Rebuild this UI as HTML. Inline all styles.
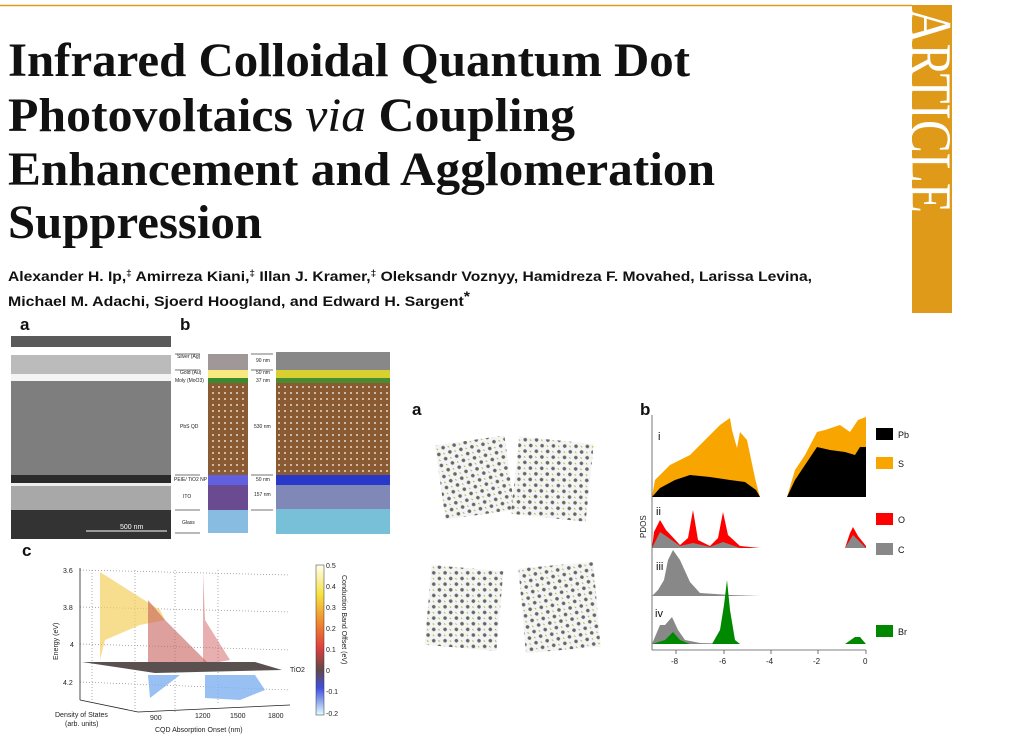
<!DOCTYPE html>
<html><head><meta charset="utf-8"><style>
html,body{margin:0;padding:0;background:#fff;width:1024px;height:740px;overflow:hidden}
svg{display:block}
</style></head><body>
<svg width="1024" height="740" viewBox="0 0 1024 740" xmlns="http://www.w3.org/2000/svg">
<defs>
<pattern id="qd" width="6" height="6" patternUnits="userSpaceOnUse"><rect width="6" height="6" fill="#8a5a32"/><circle cx="3" cy="3" r="1" fill="#e8d8c8"/></pattern>
<pattern id="mol" width="8" height="8" patternUnits="userSpaceOnUse" patternTransform="rotate(40)"><rect width="8" height="8" fill="#f4f4f4"/><circle cx="4" cy="4" r="1.8" fill="#666"/><circle cx="0" cy="0" r="1.2" fill="#d4c030"/><circle cx="8" cy="0" r="1" fill="#50c040"/></pattern>
<clipPath id="barclip"><rect x="912" y="5" width="40" height="308"/></clipPath>
<linearGradient id="cb" x1="0" y1="0" x2="0" y2="1"><stop offset="0" stop-color="#fffff0"/><stop offset="0.2" stop-color="#f6e040"/><stop offset="0.4" stop-color="#f08030"/><stop offset="0.55" stop-color="#e04040"/><stop offset="0.7" stop-color="#604848"/><stop offset="0.82" stop-color="#4050e0"/><stop offset="1" stop-color="#e0ffff"/></linearGradient>
<linearGradient id="sem" x1="0" y1="0" x2="0" y2="1"><stop offset="0" stop-color="#888"/><stop offset="1" stop-color="#6a6a6a"/></linearGradient>
</defs>
<line x1="0" y1="5.5" x2="912" y2="5.5" stroke="#e09a1a" stroke-width="1.5"/>
<rect x="912" y="5" width="40" height="308" fill="#e09a1a"/>
<g clip-path="url(#barclip)">
<text transform="translate(910,8) rotate(90)" font-family="Liberation Serif, serif" font-size="60" fill="#fff" textLength="205" lengthAdjust="spacingAndGlyphs">ARTICLE</text>
</g>
<g font-family="Liberation Serif, serif" font-size="48" font-weight="bold" fill="#111">
<text x="8" y="76" textLength="682" lengthAdjust="spacingAndGlyphs">Infrared Colloidal Quantum Dot</text>
<text x="8" y="131" textLength="567" lengthAdjust="spacingAndGlyphs">Photovoltaics <tspan font-style="italic" font-weight="normal">via</tspan> Coupling</text>
<text x="8" y="185" textLength="707" lengthAdjust="spacingAndGlyphs">Enhancement and Agglomeration</text>
<text x="8" y="238" textLength="254" lengthAdjust="spacingAndGlyphs">Suppression</text>
</g>
<g font-family="Liberation Sans, sans-serif" font-size="14" font-weight="bold" fill="#111">
<text x="8" y="281" textLength="804" lengthAdjust="spacingAndGlyphs">Alexander H. Ip,<tspan dy="-5" font-size="9">‡</tspan><tspan dy="5"> Amirreza Kiani,</tspan><tspan dy="-5" font-size="9">‡</tspan><tspan dy="5"> Illan J. Kramer,</tspan><tspan dy="-5" font-size="9">‡</tspan><tspan dy="5"> Oleksandr Voznyy, Hamidreza F. Movahed, Larissa Levina,</tspan></text>
<text x="8" y="306" textLength="462" lengthAdjust="spacingAndGlyphs">Michael M. Adachi, Sjoerd Hoogland, and Edward H. Sargent<tspan dy="-5">*</tspan></text>
</g>
<g font-family="Liberation Sans, sans-serif" font-weight="bold" font-size="17" fill="#111">
<text x="20" y="330">a</text><text x="180" y="330">b</text><text x="22" y="556">c</text>
<text x="412" y="415">a</text><text x="640" y="415">b</text>
</g>
<rect x="11" y="336" width="160" height="203" fill="url(#sem)"/>
<rect x="11" y="336" width="160" height="11" fill="#5a5a5a"/>
<rect x="11" y="347" width="160" height="8" fill="#fff"/>
<rect x="11" y="355" width="160" height="22" fill="#bbb"/>
<rect x="11" y="374" width="160" height="7" fill="#f4f4f4"/>
<rect x="11" y="381" width="160" height="94" fill="#7e7e7e"/>
<rect x="11" y="475" width="160" height="8" fill="#2a2a2a"/>
<rect x="11" y="483" width="160" height="3" fill="#eee"/>
<rect x="11" y="486" width="160" height="24" fill="#a8a8a8"/>
<rect x="11" y="510" width="160" height="29" fill="#333"/>
<line x1="86" y1="531" x2="167" y2="531" stroke="#fff" stroke-width="1"/>
<text x="120" y="529" font-family="Liberation Sans, sans-serif" font-size="7" fill="#fff">500 nm</text>
<g font-family="Liberation Sans, sans-serif" font-size="5" fill="#222">
<text x="177" y="358">Silver (Ag)</text><text x="180" y="374">Gold (Au)</text><text x="175" y="382">Moly (MoO3)</text>
<text x="180" y="428">PbS QD</text><text x="174" y="481">PEIE/ TiO2 NP</text><text x="183" y="498">ITO</text><text x="182" y="524">Glass</text>
<text x="256" y="362">90 nm</text><text x="256" y="374">50 nm</text><text x="256" y="382">37 nm</text><text x="254" y="428">530 nm</text><text x="256" y="481">50 nm</text><text x="254" y="496">157 nm</text>
</g>
<g stroke="#444" stroke-width="0.8">
<line x1="175" y1="354" x2="200" y2="354"/><line x1="175" y1="370" x2="200" y2="370"/><line x1="175" y1="475" x2="200" y2="475"/><line x1="175" y1="510" x2="200" y2="510"/><line x1="175" y1="533" x2="200" y2="533"/>
<line x1="251" y1="354" x2="273" y2="354"/><line x1="251" y1="370" x2="273" y2="370"/><line x1="251" y1="475" x2="273" y2="475"/><line x1="251" y1="510" x2="273" y2="510"/>
</g>
<rect x="208" y="354" width="40" height="16" fill="#a09898"/>
<rect x="208" y="370" width="40" height="8" fill="#f8e880"/>
<rect x="208" y="378" width="40" height="5" fill="#3a8a30"/>
<rect x="208" y="383" width="40" height="92" fill="url(#qd)"/>
<rect x="208" y="475" width="40" height="10" fill="#6060e0"/>
<rect x="208" y="485" width="40" height="25" fill="#6a4a90"/>
<rect x="208" y="510" width="40" height="23" fill="#88bce0"/>
<rect x="276" y="352" width="114" height="18" fill="#888"/>
<rect x="276" y="370" width="114" height="8" fill="#d8d030"/>
<rect x="276" y="378" width="114" height="5" fill="#4a8a30"/>
<rect x="276" y="383" width="114" height="92" fill="url(#qd)"/>
<rect x="276" y="475" width="114" height="10" fill="#2838c8"/>
<rect x="276" y="485" width="114" height="24" fill="#8088b8"/>
<rect x="276" y="509" width="114" height="25" fill="#78c0d8"/>
<g stroke="#888" stroke-dasharray="1,2" stroke-width="0.7" fill="none">
<line x1="80" y1="570" x2="290" y2="575"/><line x1="80" y1="607" x2="290" y2="612"/><line x1="80" y1="644" x2="290" y2="650"/><line x1="80" y1="682" x2="290" y2="690"/>
<line x1="92" y1="570" x2="92" y2="700"/><line x1="135" y1="570" x2="135" y2="712"/><line x1="175" y1="570" x2="175" y2="712"/><line x1="218" y1="570" x2="218" y2="705"/>
</g>
<line x1="80" y1="568" x2="80" y2="700" stroke="#222" stroke-width="0.8"/>
<line x1="80" y1="700" x2="138" y2="712" stroke="#222" stroke-width="0.8"/>
<line x1="138" y1="712" x2="290" y2="705" stroke="#222" stroke-width="0.8"/>
<path d="M100,572 L160,610 L165,620 L140,625 L105,640 L100,660Z" fill="#f3d060" opacity="0.7"/>
<path d="M148,600 L165,620 L210,665 L200,670 L148,668Z" fill="#c8605a" opacity="0.6"/>
<path d="M203,572 L205,620 L230,660 L203,665Z" fill="#d06060" opacity="0.5"/>
<path d="M82,662 L255,662 L282,670 L155,673 Z" fill="#5a5050"/>
<path d="M148,675 L180,675 L150,698Z M205,675 L255,675 L265,690 L240,700 L205,698Z" fill="#80b0f0" opacity="0.8"/>
<rect x="316" y="565" width="8" height="150" fill="url(#cb)" stroke="#333" stroke-width="0.5"/>
<g font-family="Liberation Sans, sans-serif" font-size="7" fill="#222">
<text x="63" y="573">3.6</text><text x="63" y="610">3.8</text><text x="70" y="647">4</text><text x="63" y="685">4.2</text>
<text x="326" y="568">0.5</text><text x="326" y="589">0.4</text><text x="326" y="610">0.3</text><text x="326" y="631">0.2</text><text x="326" y="652">0.1</text><text x="326" y="673">0</text><text x="326" y="694">-0.1</text><text x="326" y="716">-0.2</text>
<text x="290" y="672">TiO2</text>
<text x="150" y="720">900</text><text x="195" y="718">1200</text><text x="230" y="718">1500</text><text x="268" y="718">1800</text>
<text x="155" y="732">CQD Absorption Onset (nm)</text>
<text x="55" y="717">Density of States</text><text x="65" y="726">(arb. units)</text>
<text transform="translate(58,660) rotate(-90)">Energy (eV)</text>
<text transform="translate(342,575) rotate(90)">Conduction Band Offset (eV)</text>
</g>
<g>
<rect x="440" y="440" width="70" height="75" fill="url(#mol)" transform="rotate(-8 475 478)"/>
<rect x="515" y="440" width="75" height="78" fill="url(#mol)" transform="rotate(6 552 478)"/>
<rect x="428" y="568" width="72" height="80" fill="url(#mol)" transform="rotate(5 464 608)"/>
<rect x="522" y="565" width="75" height="85" fill="url(#mol)" transform="rotate(-5 560 607)"/>
</g>
<g font-family="Liberation Sans, sans-serif" font-size="11" fill="#111">
<text x="658" y="440">i</text><text x="656" y="515">ii</text><text x="656" y="570">iii</text><text x="655" y="617">iv</text>
</g>
<path d="M652,497 L655,480 L670,465 L690,455 L705,440 L720,425 L730,418 L732,430 L737,448 L740,432 L747,440 L755,478 L758,490 L760,497Z" fill="#f9a500"/>
<path d="M652,497 L660,488 L675,480 L690,475 L710,477 L730,480 L745,482 L756,490 L760,497Z" fill="#000"/>
<path d="M787,497 L795,470 L805,455 L817,432 L825,430 L840,425 L850,432 L858,420 L866,417 L866,497Z" fill="#f9a500"/>
<path d="M787,497 L795,480 L805,465 L817,447 L830,450 L845,452 L855,455 L860,447 L866,447 L866,497Z" fill="#000"/>
<path d="M652,548 L654,532 L660,520 L666,530 L680,545 L688,538 L693,510 L698,540 L710,546 L718,538 L723,512 L728,535 L740,546 L760,548 L845,548 L850,533 L853,527 L858,536 L866,546 L866,548Z" fill="#f00"/>
<path d="M652,548 L656,540 L660,532 L666,536 L680,546 L693,543 L710,547 L723,542 L740,548 L845,548 L850,540 L853,535 L858,540 L866,548Z" fill="#888"/>
<path d="M652,596 L658,590 L664,580 L668,560 L673,550 L680,560 L690,582 L700,593 L730,595 L760,596 L866,596Z" fill="#888"/>
<path d="M652,644 L660,625 L665,625 L672,617 L678,630 L685,640 L700,643 L740,644 L866,644Z" fill="#888"/>
<path d="M652,644 L665,640 L673,632 L680,640 L690,644 L712,644 L720,630 L724,605 L727,580 L730,610 L735,640 L740,644 L845,644 L855,637 L860,637 L866,644Z" fill="#080"/>
<g stroke="#555" stroke-width="0.8">
<line x1="652" y1="415" x2="652" y2="650"/><line x1="652" y1="650" x2="866" y2="650"/>
<line x1="676" y1="650" x2="676" y2="654"/><line x1="724" y1="650" x2="724" y2="654"/><line x1="771" y1="650" x2="771" y2="654"/><line x1="818" y1="650" x2="818" y2="654"/><line x1="866" y1="650" x2="866" y2="654"/>
</g>
<g font-family="Liberation Sans, sans-serif" font-size="8" fill="#222">
<text x="671" y="664">-8</text><text x="719" y="664">-6</text><text x="766" y="664">-4</text><text x="813" y="664">-2</text><text x="863" y="664">0</text>
<text transform="translate(646,538) rotate(-90)">PDOS</text>
</g>
<rect x="876" y="428" width="17" height="12" fill="#000"/><rect x="876" y="457" width="17" height="12" fill="#f9a500"/>
<rect x="876" y="513" width="17" height="12" fill="#f00"/><rect x="876" y="543" width="17" height="12" fill="#888"/>
<rect x="876" y="625" width="17" height="12" fill="#080"/>
<g font-family="Liberation Sans, sans-serif" font-size="9" fill="#111">
<text x="898" y="438">Pb</text><text x="898" y="467">S</text><text x="898" y="523">O</text><text x="898" y="553">C</text><text x="898" y="635">Br</text>
</g>
</svg>
</body></html>
